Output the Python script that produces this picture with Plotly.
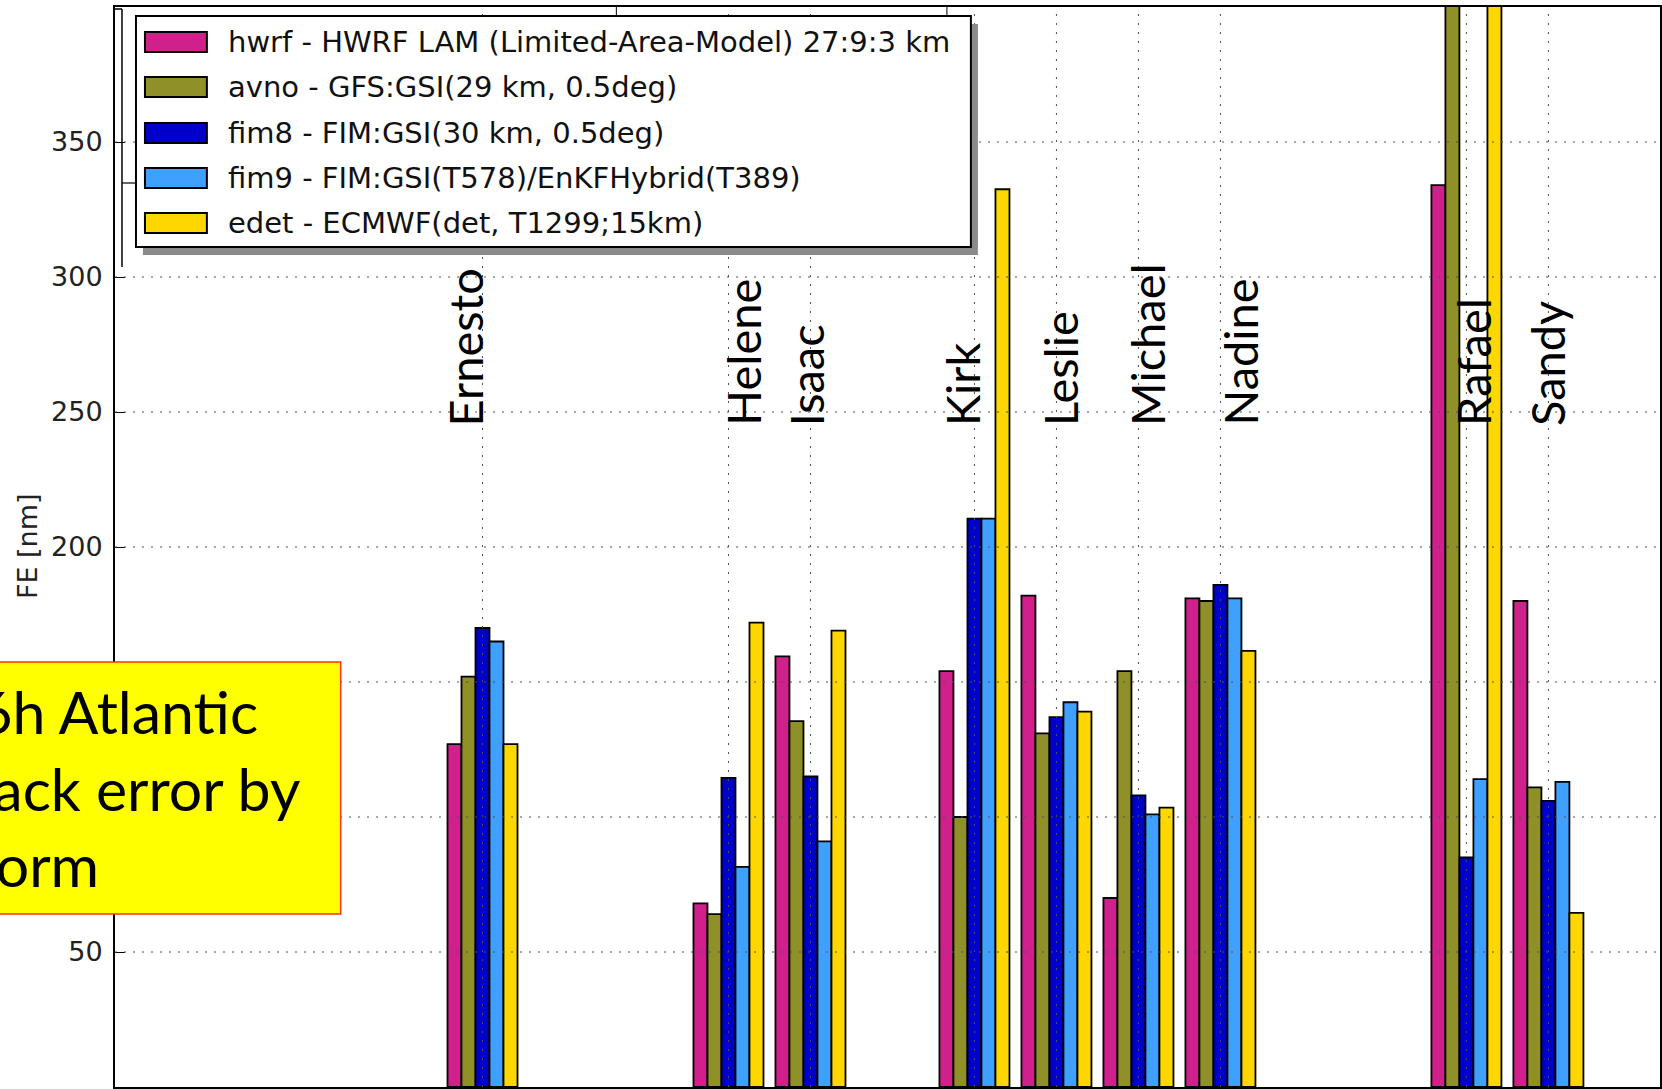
import plotly.graph_objects as go

# ---------------- data ----------------
STORMS = ["Ernesto", "Helene", "Isaac", "Kirk", "Leslie", "Michael", "Nadine", "Rafael", "Sandy"]
STORM_NUM = [5, 8, 9, 11, 12, 13, 14, 17, 18]

SERIES_LABELS = [
    "hwrf - HWRF LAM (Limited-Area-Model) 27:9:3 km",
    "avno - GFS:GSI(29 km, 0.5deg)",
    "fim8 - FIM:GSI(30 km, 0.5deg)",
    "fim9 - FIM:GSI(T578)/EnKFHybrid(T389)",
    "edet - ECMWF(det, T1299;15km)",
]
hwrf = [127, 68, 159.5, 154, 182, 70, 181, 334, 180]
avno = [152, 64, 135.5, 100, 131, 154, 180, 520, 111]
fim8 = [170, 114.5, 115, 210.5, 137, 108, 186, 85, 106]
fim9 = [165, 81.5, 91, 210.5, 142.5, 101, 181, 114, 113]
edet = [127, 172, 169, 332.5, 139, 103.5, 161.5, 480, 64.5]

Y_TICKS = [0, 50, 100, 150, 200, 250, 300, 350]
Y_TITLE = "FE [nm]"
BOX_TEXT = "96h Atlantic<br>Track error by<br>Storm"

# ---------------- style / layout ----------------
COLORS = ["#D0208C", "#909028", "#0000CD", "#40A0FF", "#FFD700"]
LABEL_DX = [-0.22, 0.18, -0.05, -0.15, 0.05, 0.11, 0.24, 0.08, -0.01]

W, H = 1662, 1089
L, R, T, B = 115, 0, 7, 2
PW, PH = W - L - R, H - T - B
X_RANGE = [0.518, 0.518 + PW / 82.1]
Y_RANGE = [0, 400]


def px_x(px):
    return (px - L) / PW


def px_y(py):
    return (H - B - py) / PH


fig = go.Figure()
for label, vals, col in zip(SERIES_LABELS, [hwrf, avno, fim8, fim9, edet], COLORS):
    fig.add_trace(go.Bar(
        x=STORM_NUM, y=vals, name=label,
        marker=dict(color=col, line=dict(color="black", width=1.8)),
        showlegend=False,
    ))

shapes = []
GRID = dict(color="#505050", width=1, dash="2px,7px")
for n in STORM_NUM:
    shapes.append(dict(type="line", xref="x", yref="paper", x0=n, x1=n, y0=0, y1=1,
                       line=GRID, layer="above"))
for v in Y_TICKS[1:]:
    shapes.append(dict(type="line", xref="paper", yref="y", x0=0, x1=1, y0=v, y1=v,
                       line=GRID, layer="above"))

# stray frame lines from background figure
shapes.append(dict(type="line", xref="paper", yref="paper", x0=px_x(122), x1=px_x(122),
                   y0=px_y(9), y1=px_y(267), line=dict(color="black", width=1.5), layer="above"))
shapes.append(dict(type="line", xref="paper", yref="paper", x0=px_x(114), x1=px_x(122),
                   y0=px_y(9), y1=px_y(9), line=dict(color="black", width=1.5), layer="above"))
shapes.append(dict(type="line", xref="paper", yref="paper", x0=px_x(122), x1=px_x(136),
                   y0=px_y(183), y1=px_y(183), line=dict(color="black", width=1.2), layer="above"))
for tx in (617, 948):
    shapes.append(dict(type="line", xref="paper", yref="paper", x0=px_x(tx), x1=px_x(tx),
                       y0=px_y(7), y1=px_y(15), line=dict(color="black", width=1), layer="above"))

# legend (shadow, box, swatches)
LEG = dict(x0=136, x1=972, y0=16, y1=247)
shapes.append(dict(type="rect", xref="paper", yref="paper",
                   x0=px_x(LEG["x0"] + 7), x1=px_x(LEG["x1"] + 7),
                   y0=px_y(LEG["y1"] + 8), y1=px_y(LEG["y0"] + 8),
                   fillcolor="#8a8a8a", line=dict(width=0), layer="above"))
shapes.append(dict(type="rect", xref="paper", yref="paper",
                   x0=px_x(LEG["x0"]), x1=px_x(LEG["x1"]),
                   y0=px_y(LEG["y1"]), y1=px_y(LEG["y0"]),
                   fillcolor="white", line=dict(color="black", width=2), layer="above"))
ROW_Y = [42, 87, 133, 178, 223]
for ry, col in zip(ROW_Y, COLORS):
    shapes.append(dict(type="rect", xref="paper", yref="paper",
                       x0=px_x(145), x1=px_x(207), y0=px_y(ry + 10), y1=px_y(ry - 10),
                       fillcolor=col, line=dict(color="black", width=2), layer="above"))

# yellow text box
shapes.append(dict(type="rect", xref="paper", yref="paper",
                   x0=px_x(-60), x1=px_x(341), y0=px_y(914), y1=px_y(662),
                   fillcolor="#FFFF00", line=dict(color="#FF3300", width=1.5), layer="above"))

annotations = []
for ry, label in zip(ROW_Y, SERIES_LABELS):
    annotations.append(dict(text=label, xref="paper", yref="paper", x=px_x(226), y=px_y(ry),
                            xanchor="left", yanchor="middle", showarrow=False,
                            font=dict(family="DejaVu Sans", size=29, color="#111111")))

for name, n, dx in zip(STORMS, STORM_NUM, LABEL_DX):
    annotations.append(dict(text=name, xref="x", yref="y", x=n + dx, y=244.1,
                            textangle=-90, xanchor="center", yanchor="bottom", showarrow=False,
                            font=dict(family="Lato", size=47, color="black")))

annotations.append(dict(text=Y_TITLE, xref="paper", yref="paper", x=px_x(27), y=px_y(546),
                        textangle=-90, xanchor="center", yanchor="middle", showarrow=False,
                        font=dict(family="DejaVu Sans", size=27, color="#222222")))

annotations.append(dict(text=BOX_TEXT, xref="paper", yref="paper", x=px_x(-58), y=px_y(788),
                        xanchor="left", yanchor="middle", align="left", showarrow=False,
                        font=dict(family="Lato", size=59, color="black")))

fig.update_layout(
    width=W, height=H,
    margin=dict(l=L, r=R, t=T, b=B, pad=0),
    paper_bgcolor="white", plot_bgcolor="white",
    barmode="group", bargap=0.146, bargroupgap=0,
    shapes=shapes, annotations=annotations,
    showlegend=False,
    xaxis=dict(range=X_RANGE, tickvals=STORM_NUM, showticklabels=False, ticks="",
               showgrid=False, zeroline=False, showline=True, linecolor="black",
               linewidth=2, mirror=True),
    yaxis=dict(range=Y_RANGE, tickvals=Y_TICKS, ticks="inside", ticklen=10, tickwidth=1,
               tickcolor="black", showgrid=False, zeroline=False, showline=True,
               linecolor="black", linewidth=2, mirror=True, ticklabelstandoff=5,
               tickfont=dict(family="DejaVu Sans", size=27, color="#222222")),
)

fig.write_html(
    "out.html",
    config={"displayModeBar": False},
    post_script="document.body.style.margin='0';document.body.style.padding='0';"
                "document.body.style.overflow='hidden';",
)
